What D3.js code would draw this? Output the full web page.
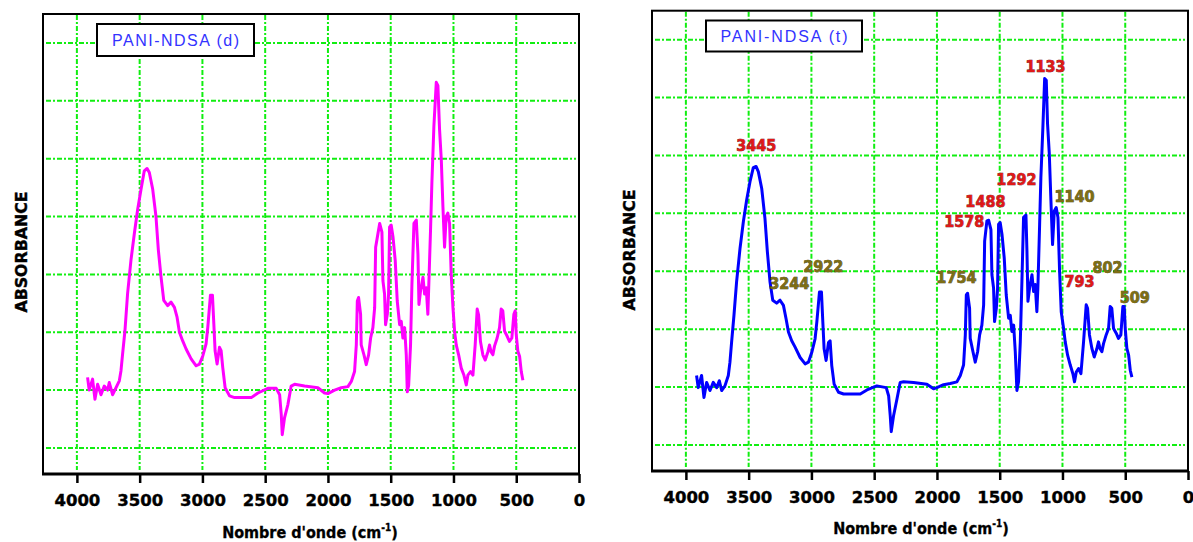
<!DOCTYPE html>
<html>
<head>
<meta charset="utf-8">
<title>PANI-NDSA FTIR</title>
<script src="https://d3js.org/d3.v7.min.js"></script>
<style>
html, body { margin: 0; padding: 0; background: #fff; }
svg { display: block; }
.grid line { stroke: #11ee11; stroke-width: 2; stroke-dasharray: 5,2,2,2; }
.frame { fill: none; stroke: #000; stroke-width: 2; }
.axis path { display: none; }
.axis line { stroke: #000; stroke-width: 2.5; }
.axis text { font-family: "DejaVu Sans"; font-weight: bold; font-size: 16.5px; fill: #000; stroke: #000; stroke-width: 0.4; }
.xtitle { font-family: "DejaVu Sans Condensed"; font-weight: bold; font-size: 16px; fill: #000; stroke: #000; stroke-width: 0.3; }
.ylabel { font-family: "DejaVu Sans"; font-weight: bold; font-size: 16px; fill: #000; stroke: #000; stroke-width: 0.4; }
.legend rect { fill: #fff; stroke: #000; stroke-width: 2; }
.legend text { font-family: "Liberation Sans"; font-size: 16px; fill: #3333ff; }
.peak { font-family: "DejaVu Sans Condensed"; font-weight: bold; font-size: 16px; stroke-width: 0.6; paint-order: stroke; }
</style>
</head>
<body>
<script>
// x axis ticks (cm-1) and grid positions
const xTicks = [4000, 3500, 3000, 2500, 2000, 1500, 1000, 500, 0];
const gridX = [4000, 3500, 3000, 2500, 2000, 1500, 1000, 500];
const gridY = [0, 1, 2, 3, 4, 5, 6, 7];

// PANI-NDSA (d) : wavenumber / absorbance (grid units)
const dWave = [3915,3902,3875,3856,3835,3808,3782,3755,3742,3715,3689,3662,3649,3636,3617,3596,3569,3542,3516,3489,
  3463,3441,3423,3396,3370,3351,3330,3308,3277,3250,3223,3202,3183,3157,3130,3090,3050,3024,2997,2971,
  2957,2936,2920,2909,2899,2883,2864,2851,2838,2819,2784,2744,2611,2558,2479,2412,2385,2372,2364,2346,
  2319,2293,2266,2186,2080,2027,2000,1947,1894,1841,1814,1788,1774,1766,1756,1740,1735,1713,1695,1676,
  1660,1642,1628,1620,1602,1588,1570,1562,1549,1541,1527,1517,1509,1496,1482,1464,1448,1429,1416,1403,
  1389,1376,1368,1357,1342,1331,1315,1296,1283,1275,1262,1243,1230,1217,1204,1198,1182,1172,1156,1137,
  1124,1111,1097,1084,1071,1058,1045,1031,1018,1004,991,978,959,938,917,898,885,864,845,827,
  811,800,785,766,747,726,713,700,686,673,652,633,620,607,593,572,554,535,519,508,
  500,487,473,460,447];
const dAbs = [1.22,1.00,1.19,0.84,1.10,0.92,1.07,1.00,1.13,0.92,1.04,1.16,1.33,1.62,2.03,2.67,3.25,3.71,4.12,4.47,
  4.79,4.83,4.76,4.47,4.00,3.42,2.96,2.55,2.46,2.52,2.43,2.26,2.00,1.85,1.71,1.54,1.42,1.45,1.59,1.80,
  2.09,2.64,2.64,2.14,1.68,1.45,1.74,1.68,1.39,1.04,0.90,0.87,0.87,0.95,1.03,1.03,0.92,0.58,0.23,0.52,
  0.75,1.07,1.10,1.07,1.04,0.95,0.94,1.00,1.04,1.06,1.15,1.32,1.78,2.54,2.60,2.31,1.78,1.61,1.44,1.61,
  1.90,2.08,2.42,3.47,3.70,3.88,3.73,2.89,2.66,2.13,2.31,2.66,3.82,3.85,3.65,3.24,2.54,2.13,2.19,1.90,
  2.08,1.61,0.97,1.08,1.78,2.83,3.88,3.94,3.35,2.48,2.72,2.95,2.66,2.77,2.31,2.72,3.82,4.58,5.56,6.32,
  6.26,5.51,4.98,4.17,3.47,4.00,4.06,3.88,3.00,2.42,2.02,1.78,1.61,1.38,1.26,1.09,1.26,1.32,1.26,1.78,
  2.40,2.30,1.84,1.61,1.52,1.66,1.78,1.66,1.61,1.76,1.90,2.08,2.40,2.37,2.02,1.93,1.84,1.90,2.31,2.37,
  1.96,1.67,1.58,1.32,1.17];

// PANI-NDSA (t)
const tWave = [3915,3902,3875,3856,3835,3808,3782,3755,3734,3715,3689,3662,3649,3636,3617,3596,3569,3542,3516,3489,
  3463,3441,3423,3396,3370,3351,3330,3308,3277,3250,3223,3202,3183,3157,3130,3090,3050,3024,2997,2971,
  2957,2936,2920,2909,2899,2883,2864,2851,2838,2819,2784,2744,2611,2558,2479,2404,2385,2372,2364,2346,
  2319,2293,2266,2186,2080,2027,2000,1947,1894,1841,1814,1788,1774,1766,1756,1740,1735,1713,1695,1676,
  1660,1642,1628,1620,1602,1588,1570,1562,1549,1541,1527,1517,1509,1496,1482,1464,1448,1429,1416,1403,
  1389,1376,1363,1350,1336,1323,1310,1291,1283,1275,1262,1243,1230,1217,1204,1196,1182,1172,1156,1142,
  1129,1119,1105,1092,1079,1065,1050,1036,1023,1010,991,978,959,938,917,904,890,872,853,832,
  811,800,785,766,747,726,713,700,686,673,652,633,620,607,593,572,554,535,519,508,
  500,487,473,460,447];
const tAbs = [1.20,0.99,1.20,0.82,1.08,0.94,1.08,0.99,1.11,0.94,1.02,1.20,1.43,1.77,2.24,2.82,3.39,3.86,4.23,4.55,
  4.79,4.81,4.72,4.43,3.91,3.34,2.82,2.50,2.45,2.50,2.41,2.18,1.95,1.80,1.69,1.51,1.40,1.43,1.60,1.83,
  2.12,2.64,2.64,2.12,1.66,1.46,1.77,1.80,1.37,1.05,0.91,0.88,0.88,0.95,1.02,0.99,0.85,0.50,0.23,0.50,
  0.79,1.08,1.09,1.08,1.05,0.97,0.99,1.04,1.06,1.09,1.20,1.38,1.90,2.59,2.62,2.36,1.84,1.61,1.43,1.61,
  1.90,2.07,2.42,3.52,3.87,3.88,3.72,2.94,2.71,2.13,2.36,2.71,3.81,3.84,3.64,3.23,2.59,2.19,2.24,1.96,
  2.07,1.61,0.94,1.09,1.78,2.83,3.93,3.97,3.35,2.48,2.71,2.94,2.65,2.77,2.30,2.71,3.81,4.62,5.49,6.33,
  6.30,5.55,5.03,4.22,3.46,4.04,4.10,3.93,3.00,2.30,2.01,1.78,1.55,1.38,1.23,1.09,1.26,1.32,1.23,1.78,
  2.42,2.36,1.90,1.67,1.52,1.66,1.78,1.66,1.61,1.75,1.90,2.01,2.39,2.36,2.01,1.93,1.84,1.90,2.39,2.39,
  2.01,1.67,1.55,1.29,1.17];

// peak annotations on the (t) spectrum
const peakText = ['3445', '3244', '2922', '1754', '1578', '1488', '1292', '1133', '1140', '793', '802', '509'];
const peakWave = [3440, 3177, 2906, 1845, 1782, 1614, 1367, 1135, 904, 864, 641, 425];
const peakAbs = [5.17, 2.79, 3.08, 2.89, 3.86, 4.20, 4.58, 6.54, 4.29, 2.82, 3.06, 2.54];
const peakRed = [true, false, false, false, true, true, true, true, false, true, false, false];

let svg = d3.select('body').append('svg').attr('width', 1193).attr('height', 542);

let panels = [
  {name: 'PANI-NDSA (d)', wave: dWave, abs: dAbs, color: '#ff00ff', left: 43, right: 579, top: 14, bottom: 474,
   box: [97, 24, 157, 32], ylab: [21, 252], title: [310, 537.5], peaks: false},
  {name: 'PANI-NDSA (t)', wave: tWave, abs: tAbs, color: '#0000ff', left: 652, right: 1188, top: 10.7, bottom: 471,
   box: [706, 20.5, 156, 31], ylab: [629, 250], title: [921, 533.5], peaks: true}
];

panels.forEach(drawPanel);

function drawPanel(p) {
  let x = d3.scaleLinear().domain([4270, 0]).range([p.left, p.right]);
  let y = d3.scaleLinear().domain([-0.45, 7.5]).range([p.bottom, p.top]);
  let g = svg.append('g');

  let grid = g.append('g').attr('class', 'grid');
  grid.selectAll('line.v').data(gridX).enter().append('line').attr('class', 'v')
    .attr('x1', d => x(d)).attr('x2', d => x(d)).attr('y1', p.top + 1).attr('y2', p.bottom - 4);
  grid.selectAll('line.h').data(gridY).enter().append('line').attr('class', 'h')
    .attr('x1', p.left + 3).attr('x2', p.right - 3).attr('y1', d => y(d)).attr('y2', d => y(d));

  let line = d3.line().x((d, i) => x(p.wave[i])).y((d, i) => y(p.abs[i]));
  g.append('path').datum(p.abs).attr('d', line).attr('fill', 'none')
    .attr('stroke', p.color).attr('stroke-width', 3).attr('stroke-linejoin', 'round');

  g.append('rect').attr('class', 'frame').attr('x', p.left).attr('y', p.top)
    .attr('width', p.right - p.left).attr('height', p.bottom - p.top);
  g.append('line').attr('x1', p.left - 1).attr('x2', p.right + 1).attr('y1', p.bottom).attr('y2', p.bottom)
    .attr('stroke', '#000').attr('stroke-width', 3);

  g.append('g').attr('class', 'axis').attr('transform', 'translate(0,' + p.bottom + ')')
    .call(d3.axisBottom(x).tickValues(xTicks).tickSize(9).tickPadding(11).tickFormat(d3.format('d')));

  let t = g.append('text').attr('class', 'xtitle').attr('x', p.title[0]).attr('y', p.title[1])
    .attr('text-anchor', 'middle');
  t.append('tspan').text("Nombre d'onde (cm");
  t.append('tspan').attr('font-size', 10).attr('dy', -7).text('-1');
  t.append('tspan').attr('dy', 7).text(')');

  g.append('text').attr('class', 'ylabel')
    .attr('transform', 'translate(' + p.ylab[0] + ',' + p.ylab[1] + ') rotate(-90)')
    .attr('text-anchor', 'middle').attr('dominant-baseline', 'central')
    .attr('textLength', 121).attr('lengthAdjust', 'spacingAndGlyphs').text('ABSORBANCE');

  let leg = g.append('g').attr('class', 'legend');
  leg.append('rect').attr('x', p.box[0]).attr('y', p.box[1]).attr('width', p.box[2]).attr('height', p.box[3]);
  leg.append('text').attr('x', p.box[0] + p.box[2] / 2).attr('y', p.box[1] + p.box[3] / 2)
    .attr('text-anchor', 'middle').attr('dominant-baseline', 'central')
    .attr('textLength', 127).attr('lengthAdjust', 'spacing').text(p.name);

  if (p.peaks) {
    g.selectAll('text.peak').data(peakText).enter().append('text').attr('class', 'peak')
      .attr('x', (d, i) => x(peakWave[i])).attr('y', (d, i) => y(peakAbs[i]))
      .attr('text-anchor', 'middle').attr('dominant-baseline', 'central')
      .attr('fill', (d, i) => peakRed[i] ? '#e01818' : '#7d6e14')
      .attr('stroke', (d, i) => peakRed[i] ? '#5a0000' : '#2a2400')
      .text(d => d);
  }
}
</script>
</body>
</html>
